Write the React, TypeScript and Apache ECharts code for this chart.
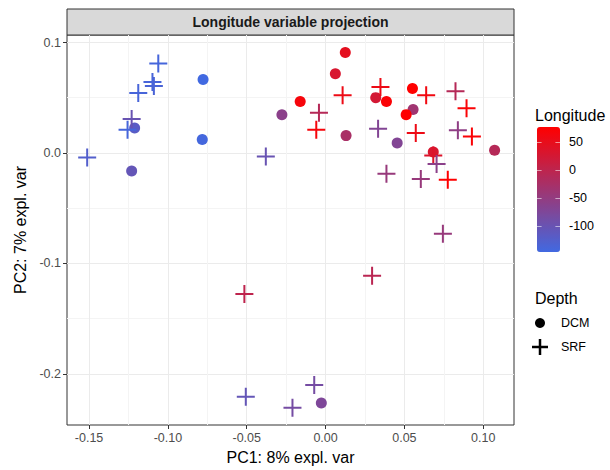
import React, { useEffect, useRef } from "react";
import * as echarts from "echarts";

// DCM samples (circles)
const dcmPC1 = [0.0125, 0.0062, -0.0777, -0.1211, -0.123, -0.0782, -0.0277, -0.0161, 0.013, 0.0318, 0.0386, 0.0551, 0.0555, 0.0511, 0.0454, 0.1072, 0.0683, -0.0027];
const dcmPC2 = [0.0909, 0.0718, 0.0665, 0.0227, -0.0163, 0.0121, 0.0345, 0.0465, 0.0157, 0.0501, 0.0465, 0.0583, 0.0393, 0.0347, 0.0091, 0.0024, 0.0009, -0.2264];
const dcmLon = [45, 30, -146, -118, -105, -142, -60, 65, -25, 25, 70, 76, -35, 75, -70, -10, 30, -75];

// SRF samples (crosses)
const srfPC1 = [-0.1061, -0.1098, -0.1089, -0.1188, -0.123, -0.1256, -0.1512, -0.0379, -0.0042, -0.0059, 0.0108, 0.0348, 0.0638, 0.0333, 0.0572, 0.0824, 0.0894, 0.0839, 0.0928, 0.0683, 0.0704, 0.0386, 0.0604, 0.0775, 0.0744, 0.0295, -0.0515, -0.0072, -0.0506, -0.021];
const srfPC2 = [0.081, 0.0642, 0.0606, 0.0544, 0.0308, 0.0211, -0.004, -0.0031, 0.0363, 0.0211, 0.0522, 0.0598, 0.0522, 0.022, 0.0181, 0.0558, 0.0404, 0.0205, 0.0148, -0.0024, -0.01, -0.0188, -0.0236, -0.0242, -0.0732, -0.1112, -0.1276, -0.21, -0.2207, -0.2306];
const srfLon = [-140, -138, -135, -138, -100, -140, -125, -100, -10, 65, 55, 55, 60, -70, 55, -10, 70, -55, 70, 35, -60, -45, -45, 75, -45, -5, 0, -85, -105, -85];

const xMajorTicks = [-0.15, -0.1, -0.05, 0, 0.05, 0.1];
const xMinorTicks = [-0.125, -0.075, -0.025, 0.025, 0.075];
const yMajorTicks = [-0.2, -0.1, 0, 0.1];
const yMinorTicks = [-0.15, -0.05, 0.05];
const lonLegendTicks = [50, 0, -50, -100];
const lonMin = -146;
const lonMax = 76;
const depthLevels = ["DCM", "SRF"];

const FF = "'Liberation Sans', Arial, Helvetica, sans-serif";
const CROSS = "path://M-1,-9L1,-9L1,-1L9,-1L9,1L1,1L1,9L-1,9L-1,1L-9,1L-9,-1L-1,-1Z";

export default function App() {
  const ref = useRef<HTMLDivElement>(null);
  useEffect(() => {
    const chart = echarts.init(ref.current!, null, { renderer: "svg" });
    const xMin = -0.164;
    const xMax = 0.1195;
    const yMin = -0.2463;
    const yMax = 0.1068;

    const barLeft = 537;
    const barTop = 127;
    const barW = 23;
    const barH = 125;
    const yOfLon = (v: number) => barTop + ((lonMax - v) / (lonMax - lonMin)) * barH;

    const legendGraphics: any[] = [];
    lonLegendTicks.forEach((v) => {
      const y = Math.round(yOfLon(v)) + 0.5;
      legendGraphics.push({
        type: "line",
        shape: { x1: barLeft, y1: y, x2: barLeft + 4.6, y2: y },
        style: { stroke: "rgba(255,255,255,0.55)", lineWidth: 1 },
        z: 100,
      });
      legendGraphics.push({
        type: "line",
        shape: { x1: barLeft + barW - 4.6, y1: y, x2: barLeft + barW, y2: y },
        style: { stroke: "rgba(255,255,255,0.55)", lineWidth: 1 },
        z: 100,
      });
      legendGraphics.push({
        type: "text",
        x: 569,
        y: yOfLon(v),
        style: { text: String(v), font: `12.5px ${FF}`, fill: "#000", textAlign: "left", textVerticalAlign: "middle" },
      });
    });

    const option: any = {
      animation: false,
      backgroundColor: "#fff",
      grid: {
        left: 67,
        top: 35,
        width: 447,
        height: 390,
        show: true,
        borderColor: "#333333",
        borderWidth: 1,
        backgroundColor: "transparent",
        containLabel: false,
        outerBoundsMode: "none",
      },
      xAxis: [
        {
          type: "value",
          min: xMin,
          max: xMax,
          position: "bottom",
          axisLine: { show: false, onZero: false },
          axisTick: { show: true, length: 4, lineStyle: { color: "#333333", width: 1 }, customValues: xMajorTicks },
          axisLabel: {
            customValues: xMajorTicks,
            formatter: (v: number) => v.toFixed(2),
            color: "#4D4D4D",
            fontSize: 12.5,
            fontFamily: FF,
            margin: 6,
          },
          splitLine: { show: true, lineStyle: { color: "#EBEBEB", width: 1 } },
          name: "PC1: 8% expl. var",
          nameLocation: "middle",
          nameGap: 24,
          nameTextStyle: { color: "#000", fontSize: 16, fontFamily: FF },
        },
        {
          type: "value",
          min: xMin,
          max: xMax,
          position: "bottom",
          axisLine: { show: false, onZero: false },
          axisTick: { show: false, customValues: xMinorTicks },
          axisLabel: { show: false, customValues: xMinorTicks },
          splitLine: { show: true, lineStyle: { color: "#F4F4F4", width: 1 } },
        },
      ],
      yAxis: [
        {
          type: "value",
          min: yMin,
          max: yMax,
          position: "left",
          axisLine: { show: false, onZero: false },
          axisTick: { show: true, length: 4, lineStyle: { color: "#333333", width: 1 }, customValues: yMajorTicks },
          axisLabel: {
            customValues: yMajorTicks,
            formatter: (v: number) => v.toFixed(1),
            color: "#4D4D4D",
            fontSize: 12.5,
            fontFamily: FF,
            margin: 6,
          },
          splitLine: { show: true, lineStyle: { color: "#EBEBEB", width: 1 } },
          name: "PC2: 7% expl. var",
          nameLocation: "middle",
          nameGap: 37,
          nameTextStyle: { color: "#000", fontSize: 16, fontFamily: FF },
        },
        {
          type: "value",
          min: yMin,
          max: yMax,
          position: "left",
          axisLine: { show: false, onZero: false },
          axisTick: { show: false, customValues: yMinorTicks },
          axisLabel: { show: false, customValues: yMinorTicks },
          splitLine: { show: true, lineStyle: { color: "#F4F4F4", width: 1 } },
        },
      ],
      visualMap: {
        type: "continuous",
        min: lonMin,
        max: lonMax,
        dimension: 2,
        seriesIndex: [0, 1],
        orient: "vertical",
        left: barLeft,
        top: barTop,
        padding: 0,
        itemWidth: barW,
        itemHeight: barH,
        calculable: false,
        hoverLink: false,
        inRange: { color: ["#4169E1", "#FF0000"] },
      },
      series: [
        {
          name: depthLevels[0],
          type: "scatter",
          xAxisIndex: 0,
          yAxisIndex: 0,
          symbol: "circle",
          symbolSize: 11,
          data: dcmPC1.map((x, i) => [x, dcmPC2[i], dcmLon[i]]),
          itemStyle: { opacity: 1 },
        },
        {
          name: depthLevels[1],
          type: "scatter",
          xAxisIndex: 0,
          yAxisIndex: 0,
          symbol: CROSS,
          symbolSize: 18,
          data: srfPC1.map((x, i) => [x, srfPC2[i], srfLon[i]]),
          itemStyle: { opacity: 1 },
        },
      ],
      graphic: [
        {
          type: "rect",
          shape: { x: 67, y: 9, width: 447, height: 26 },
          style: { fill: "#D9D9D9", stroke: "#333333", lineWidth: 1 },
        },
        {
          type: "text",
          x: 290.5,
          y: 22,
          style: {
            text: "Longitude variable projection",
            font: `bold 14px ${FF}`,
            fill: "#1A1A1A",
            textAlign: "center",
            textVerticalAlign: "middle",
          },
        },
        {
          type: "text",
          x: 535,
          y: 115,
          style: { text: "Longitude", font: `16px ${FF}`, fill: "#000", textAlign: "left", textVerticalAlign: "middle" },
        },
        ...legendGraphics,
        {
          type: "text",
          x: 535,
          y: 298,
          style: { text: "Depth", font: `16px ${FF}`, fill: "#000", textAlign: "left", textVerticalAlign: "middle" },
        },
        {
          type: "circle",
          shape: { cx: 540, cy: 323, r: 5 },
          style: { fill: "#000" },
        },
        {
          type: "line",
          shape: { x1: 532, y1: 347, x2: 548, y2: 347 },
          style: { stroke: "#000", lineWidth: 2.5 },
        },
        {
          type: "line",
          shape: { x1: 540, y1: 339, x2: 540, y2: 355 },
          style: { stroke: "#000", lineWidth: 2.5 },
        },
        {
          type: "text",
          x: 561,
          y: 323,
          style: { text: depthLevels[0], font: `12.5px ${FF}`, fill: "#000", textAlign: "left", textVerticalAlign: "middle" },
        },
        {
          type: "text",
          x: 561,
          y: 347,
          style: { text: depthLevels[1], font: `12.5px ${FF}`, fill: "#000", textAlign: "left", textVerticalAlign: "middle" },
        },
      ],
    };
    chart.setOption(option);
    return () => chart.dispose();
  }, []);
  return <div ref={ref} style={{ position: "fixed", left: 0, top: 0, width: 610, height: 470 }} />;
}
